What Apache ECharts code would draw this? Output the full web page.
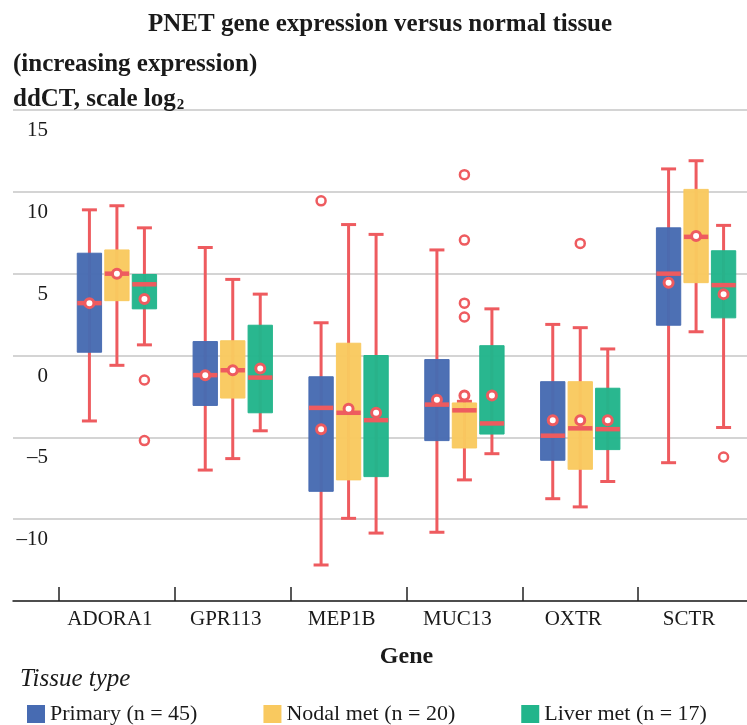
<!DOCTYPE html>
<html>
<head>
<meta charset="utf-8">
<script src="https://cdn.jsdelivr.net/npm/echarts@6/dist/echarts.min.js"></script>
<style>
  html, body { margin: 0; padding: 0; background: #fff; overflow: hidden; }
  /* a little wider than the window so the last category boundary falls just off-screen */
  #chart { width: 754px; height: 725px; }
</style>
</head>
<body>
<div id="chart"></div>
<script>
const genes = ['ADORA1', 'GPR113', 'MEP1B', 'MUC13', 'OXTR', 'SCTR']
const yTicks = [-15, -10, -5, 0, 5, 10, 15]

// each row: [whisker low, q1, median, q3, whisker high, mean]
const primaryStats = [
  [-4.0, 0.2, 3.2, 6.25, 8.9, 3.2],
  [-7.0, -3.05, -1.2, 0.85, 6.6, -1.2],
  [-12.8, -8.3, -3.2, -1.3, 2.0, -4.5],
  [-10.8, -5.2, -3.0, -0.25, 6.45, -2.7],
  [-8.75, -6.4, -4.9, -1.6, 1.9, -3.95],
  [-6.55, 1.85, 5.0, 7.8, 11.4, 4.45]
]
const nodalStats = [
  [-0.6, 3.35, 5.0, 6.45, 9.15, 5.0],
  [-6.3, -2.6, -0.9, 0.9, 4.65, -0.9],
  [-9.95, -7.6, -3.5, 0.75, 8.0, -3.25],
  [-7.6, -5.65, -3.35, -2.9, -2.8, -2.45],
  [-9.25, -6.95, -4.45, -1.6, 1.7, -3.95],
  [1.45, 4.45, 7.25, 10.15, 11.9, 7.3]
]
const liverStats = [
  [0.65, 2.85, 4.35, 4.95, 7.8, 3.45],
  [-4.6, -3.5, -1.35, 1.85, 3.75, -0.8],
  [-10.85, -7.4, -3.95, 0.0, 7.4, -3.5],
  [-6.0, -4.8, -4.15, 0.6, 2.85, -2.45],
  [-7.7, -5.75, -4.5, -2.0, 0.4, -3.95],
  [-4.4, 2.3, 4.3, 6.4, 7.95, 3.75]
]
// [gene index, value]
const primaryOutliers = [[2, 9.45]]
const nodalOutliers = [[3, 11.05], [3, 7.05], [3, 3.2], [3, 2.35], [4, 6.85]]
const liverOutliers = [[0, -1.5], [0, -5.2], [5, -6.2]]

const seriesNames = ['Primary (n = 45)', 'Nodal met (n = 20)', 'Liver met (n = 17)']
const colors = ['#476bb2', '#f9c95f', '#22b58b']
const red = '#ee5b5f'
const font = 'Liberation Serif'
const groupStep = 27.5

const chart = echarts.init(document.getElementById('chart'))

const makeBox = (k) => (params, api) => {
  const c = api.value(0)
  const bw = api.size([1, 0])[0]
  const xc = api.coord([c, 0])[0] + k * groupStep
  const y = v => api.coord([c, api.value(v)])[1]
  const hw = bw * 0.105
  const cap = 7.5
  const lineStyle = { stroke: red, lineWidth: 3 }
  return {
    type: 'group',
    children: [
      { type: 'line', shape: { x1: xc, y1: y(1), x2: xc, y2: y(5) }, style: lineStyle },
      { type: 'line', shape: { x1: xc - cap, y1: y(1), x2: xc + cap, y2: y(1) }, style: lineStyle },
      { type: 'line', shape: { x1: xc - cap, y1: y(5), x2: xc + cap, y2: y(5) }, style: lineStyle },
      {
        type: 'rect',
        shape: { x: xc - hw, y: y(4), width: hw * 2, height: y(2) - y(4) },
        style: { fill: colors[k + 1], stroke: colors[k + 1], opacity: 0.97, lineWidth: 1 }
      },
      { type: 'line', shape: { x1: xc - hw, y1: y(3), x2: xc + hw, y2: y(3) }, style: { stroke: red, lineWidth: 4.5 } },
      { type: 'circle', shape: { cx: xc, cy: y(6), r: 4.5 }, style: { fill: '#fff', stroke: red, lineWidth: 3 } }
    ]
  }
}

const boxSeries = [primaryStats, nodalStats, liverStats].map((stats, i) => ({
  name: seriesNames[i],
  type: 'custom',
  xAxisIndex: 1,
  yAxisIndex: 1,
  itemStyle: { color: colors[i] },
  renderItem: makeBox(i - 1),
  encode: { x: 0, y: [1, 2, 3, 4, 5, 6] },
  data: stats.map((s, idx) => [idx, ...s]),
  z: 2
}))

const outlierSeries = [primaryOutliers, nodalOutliers, liverOutliers].map((pts, i) => ({
  name: 'outliers ' + i,
  type: 'scatter',
  xAxisIndex: 1,
  yAxisIndex: 1,
  symbol: 'circle',
  symbolSize: 9,
  symbolOffset: [(i - 1) * groupStep, 0],
  itemStyle: { color: '#fff', borderColor: red, borderWidth: 2.5, opacity: 1 },
  data: pts,
  z: 3
}))

const option = {
  animation: false,
  textStyle: { fontFamily: font },
  title: [
    {
      text: 'PNET gene expression versus normal tissue',
      left: 143, top: 7,
      textStyle: { fontFamily: font, fontSize: 25, fontWeight: 'bold', color: '#1a1a1a' }
    },
    {
      text: '(increasing expression)',
      left: 13, top: 52, padding: 0,
      textStyle: { fontFamily: font, fontSize: 25, fontWeight: 'bold', color: '#1a1a1a' }
    },
    {
      text: '{a|ddCT, scale log}{b|2}',
      left: 13, top: 86, padding: 0,
      textStyle: {
        rich: {
          a: { fontFamily: font, fontSize: 25, fontWeight: 'bold', color: '#1a1a1a' },
          b: { fontFamily: font, fontSize: 15, fontWeight: 'bold', color: '#1a1a1a', padding: [12, 0, 0, 1] }
        }
      }
    },
    {
      text: 'Tissue type',
      left: 20, top: 667, padding: 0,
      textStyle: { fontFamily: font, fontSize: 25, fontStyle: 'italic', fontWeight: 'normal', color: '#1a1a1a' }
    }
  ],
  legend: {
    data: seriesNames,
    left: 27,
    top: 703,
    padding: 0,
    icon: 'rect',
    itemWidth: 18,
    itemHeight: 18,
    itemGap: 66,
    textStyle: { fontFamily: font, fontSize: 22, color: '#1a1a1a' }
  },
  grid: [
    { left: 13, right: 7, top: 110, bottom: 124 },
    { left: 59, right: 0, top: 110, bottom: 124 }
  ],
  xAxis: [
    {
      gridIndex: 0,
      type: 'category',
      data: genes,
      axisLine: { onZero: false, lineStyle: { color: '#222', width: 1.5 } },
      axisTick: { show: false },
      axisLabel: { show: false },
      splitLine: { show: false }
    },
    {
      gridIndex: 1,
      type: 'category',
      data: genes,
      name: 'Gene',
      nameLocation: 'middle',
      nameGap: 44,
      nameTextStyle: { fontFamily: font, fontSize: 24, fontWeight: 'bold', color: '#1a1a1a' },
      axisLine: { show: false, onZero: false },
      axisTick: { show: true, inside: true, length: 14, lineStyle: { color: '#222', width: 1.5 } },
      axisLabel: {
        fontFamily: font, fontSize: 21, color: '#1a1a1a', margin: 8,
        padding: [0, 14, 0, 0]
      },
      splitLine: { show: false }
    }
  ],
  yAxis: [
    {
      gridIndex: 0,
      type: 'value',
      min: yTicks[0],
      max: yTicks[yTicks.length - 1],
      interval: 5,
      axisLine: { show: false },
      axisTick: { show: false },
      axisLabel: {
        fontFamily: font, fontSize: 21, color: '#1a1a1a',
        margin: -35,
        verticalAlign: 'top',
        padding: [10, 0, 0, 0],
        formatter: v => (v === yTicks[0] ? '' : (v < 0 ? '\u2013' + Math.abs(v) : String(v)))
      },
      splitLine: { show: true, lineStyle: { color: '#c6c6c6', width: 1.5 } }
    },
    {
      gridIndex: 1,
      type: 'value',
      min: yTicks[0],
      max: yTicks[yTicks.length - 1],
      interval: 5,
      show: false,
      splitLine: { show: false }
    }
  ],
  series: [...boxSeries, ...outlierSeries]
}

chart.setOption(option)
</script>
</body>
</html>
